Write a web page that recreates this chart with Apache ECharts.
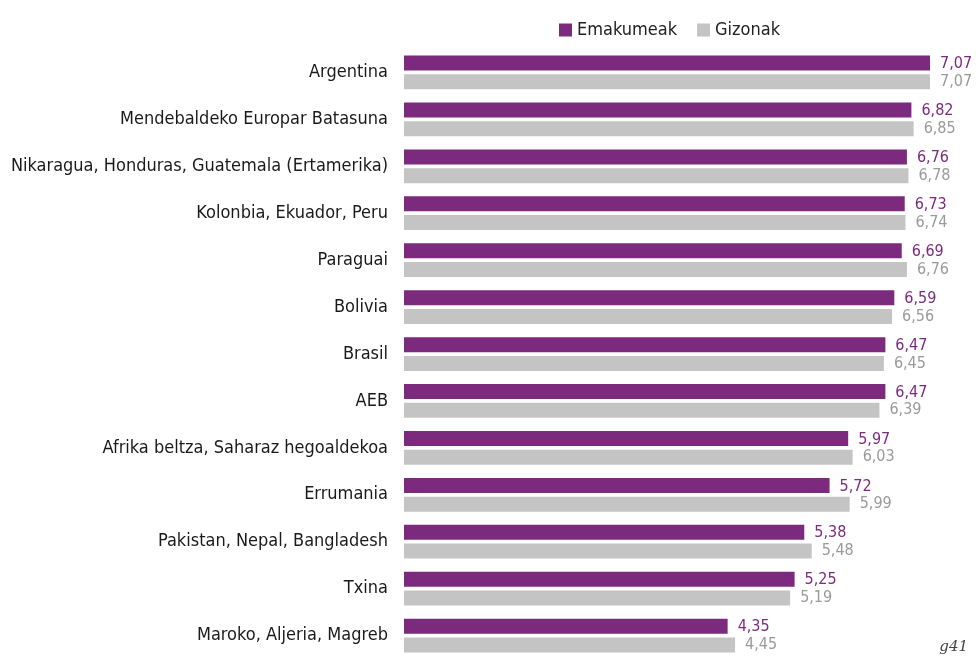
<!DOCTYPE html>
<html>
<head>
<meta charset="utf-8">
<script src="https://cdn.jsdelivr.net/npm/echarts@6/dist/echarts.min.js"></script>
<style>
  html, body { margin: 0; padding: 0; background: #fff; }
  #chart { width: 976px; height: 657px; }
</style>
</head>
<body>
<div id="chart"></div>
<script>
const FONT = '"Liberation Sans Narrow", "DejaVu Sans Condensed", "Roboto", sans-serif'

const categories = [
  'Argentina',
  'Mendebaldeko Europar Batasuna',
  'Nikaragua, Honduras, Guatemala (Ertamerika)',
  'Kolonbia, Ekuador, Peru',
  'Paraguai',
  'Bolivia',
  'Brasil',
  'AEB',
  'Afrika beltza, Saharaz hegoaldekoa',
  'Errumania',
  'Pakistan, Nepal, Bangladesh',
  'Txina',
  'Maroko, Aljeria, Magreb',
]

const women = [7.07, 6.82, 6.76, 6.73, 6.69, 6.59, 6.47, 6.47, 5.97, 5.72, 5.38, 5.25, 4.35]
const men = [7.07, 6.85, 6.78, 6.74, 6.76, 6.56, 6.45, 6.39, 6.03, 5.99, 5.48, 5.19, 4.45]

const PURPLE = '#7b2a7e'
const GREY = '#c4c4c4'

// 7.07 -> "7,07"
const fmt = p => p.value.toFixed(2).replace('.', ',')

const chart = echarts.init(document.getElementById('chart'))

chart.setOption({
  animation: false,
  textStyle: { fontFamily: FONT },
  legend: {
    top: 16,
    left: 554,
    itemWidth: 13,
    itemHeight: 13,
    itemGap: 20,
    icon: 'rect',
    textStyle: { fontSize: 18, color: '#222', fontFamily: FONT },
    data: ['Emakumeak', 'Gizonak'],
  },
  graphic: [{
    type: 'text',
    right: 8,
    bottom: 2,
    style: { text: 'g41', font: 'italic 15px "DejaVu Serif", serif', fill: '#444' },
  }],
  grid: { left: 404, top: 49, height: 610, width: 558, containLabel: false, outerBoundsMode: 'none' },
  xAxis: {
    type: 'value',
    min: 0,
    max: 7.5,
    show: false,
  },
  yAxis: {
    type: 'category',
    data: categories,
    inverse: true,
    axisLine: { show: false },
    axisTick: { show: false },
    axisLabel: { fontSize: 18, color: '#1a1a1a', margin: 16, fontFamily: FONT },
  },
  series: [
    {
      name: 'Emakumeak',
      type: 'bar',
      data: women,
      barWidth: 15,
      barGap: '25%',
      itemStyle: { color: PURPLE },
      label: {
        show: true, position: 'right', distance: 10, offset: [0, 1],
        formatter: fmt, color: PURPLE, fontSize: 16, fontFamily: FONT,
      },
    },
    {
      name: 'Gizonak',
      type: 'bar',
      data: men,
      barWidth: 15,
      itemStyle: { color: GREY },
      label: {
        show: true, position: 'right', distance: 10, offset: [0, 0],
        formatter: fmt, color: '#9a9a9a', fontSize: 16, fontFamily: FONT,
      },
    },
  ],
})
</script>
</body>
</html>
